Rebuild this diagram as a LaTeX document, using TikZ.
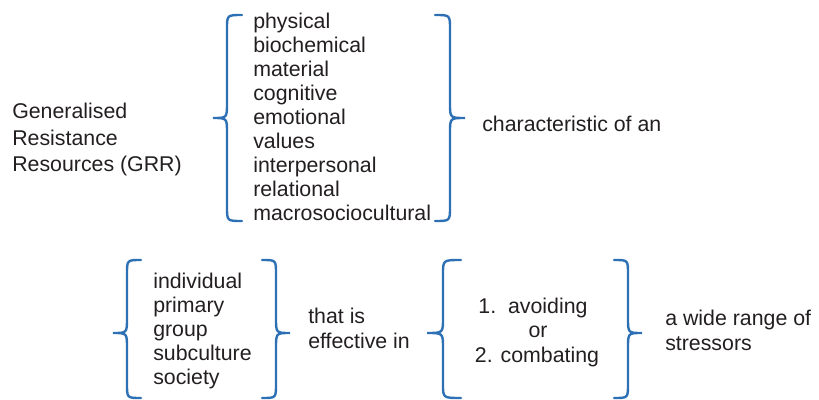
\documentclass[tikz,border=0pt]{standalone}
\usepackage{fontspec}
\setmainfont{Liberation Sans}
\definecolor{txtgray}{RGB}{35,31,32}
\definecolor{brblue}{RGB}{45,112,180}
\newcommand\brcpath[6]{% #1 end x, #2 vertical x, #3 tip x, #4 top y, #5 tip y, #6 bottom y
  \draw[brc] (#1,#4) .. controls (#2,#4) .. (#2,#4+14) -- (#2,#5-15)
    .. controls (#2,#5) .. (#3,#5) .. controls (#2,#5) .. (#2,#5+15)
    -- (#2,#6-14) .. controls (#2,#6) .. (#1,#6);}
\begin{document}
\begin{tikzpicture}[x=0.75pt,y=-0.75pt,
  brc/.style={draw=brblue,line width=1.8pt,line cap=round},
  txt/.style={font=\fontsize{16}{19}\selectfont,text=txtgray,inner sep=0pt,anchor=base west},
  ctxt/.style={txt,anchor=base}]
\clip (0,0) rectangle (819,400);
% GRR label
\node[txt] (g1) at (12,118) {Generalised};
\node[txt] (g2) at (12,145) {Resistance};
\node[txt] (g3) at (12,171) {Resources (GRR)};
% top list
\brcpath{242}{227}{213}{15}{118}{221}
\brcpath{435}{450}{465}{15}{118}{221}
\node[txt] (t1) at (253,28) {physical};
\node[txt] (t2) at (253,52) {biochemical};
\node[txt] (t3) at (253,76) {material};
\node[txt] (t4) at (253,100) {cognitive};
\node[txt] (t5) at (253,124) {emotional};
\node[txt] (t6) at (253,148) {values};
\node[txt] (t7) at (253,172) {interpersonal};
\node[txt] (t8) at (253,196) {relational};
\node[txt] (t9) at (253,220) {macrosociocultural};
\node[txt] (ch) at (482,131) {characteristic of an};
% bottom left list
\brcpath{141}{127}{113}{260}{333}{398}
\brcpath{262}{276}{290}{260}{333}{398}
\node[txt] (b1) at (153,288) {individual};
\node[txt] (b2) at (153,312) {primary};
\node[txt] (b3) at (153,336) {group};
\node[txt] (b4) at (153,360) {subculture};
\node[txt] (b5) at (153,384) {society};
\node[txt] (e1) at (308,323) {that is};
\node[txt] (e2) at (308,348) {effective in};
% avoiding / combating
\brcpath{461}{443}{427}{260}{333}{398}
\brcpath{614}{628}{642}{260}{333}{398}
\node[ctxt] (c1) at (533,313) {1.\ \ avoiding};
\node[ctxt] (c2) at (538,337) {or};
\node[ctxt] (c3) at (537,362) {2. combating};
\node[txt] (s1) at (665,325) {a wide range of};
\node[txt] (s2) at (665,350) {stressors};
\end{tikzpicture}
\end{document}
